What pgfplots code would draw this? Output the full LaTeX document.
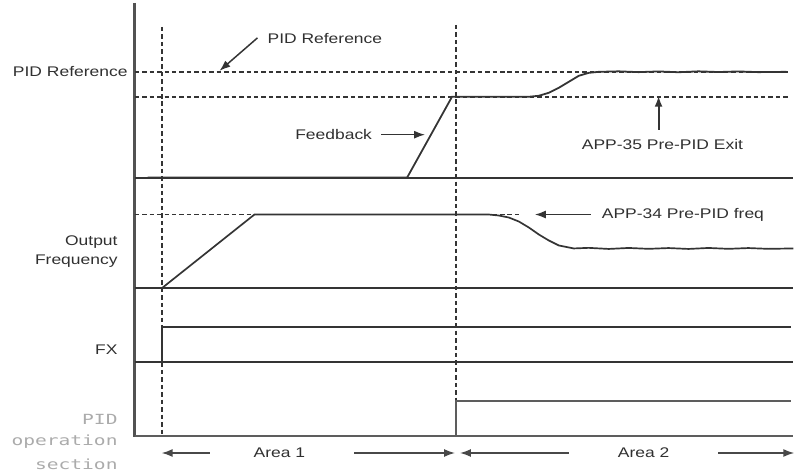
\documentclass[border=0pt]{standalone}
\usepackage{fontspec}
\setmainfont{Liberation Sans}[FakeStretch=1.25]
\newfontfamily\pixfont{DejaVu Sans Mono}[FakeStretch=1.4]
\usepackage{pgfplots}
\pgfplotsset{compat=1.18}
\usetikzlibrary{arrows.meta}
\definecolor{ln}{HTML}{343434}
\definecolor{tx}{HTML}{303030}
\definecolor{px}{HTML}{ABABAB}
\tikzset{
  dsh/.style={dash pattern=on 4.5pt off 3pt, line width=1.8pt},
  arr/.style={-{Latex[length=11pt,width=8pt]}, line width=1.5pt},
  lbl/.style={font=\fontsize{14bp}{16bp}\selectfont, text=tx, inner sep=0pt},
  pxl/.style={font=\pixfont\fontsize{14bp}{16bp}\selectfont, text=px, inner sep=0pt},
}
\begin{document}
\begin{tikzpicture}
\begin{axis}[
  scale only axis, width=795bp, height=475bp,
  xmin=0, xmax=795, ymin=0, ymax=475,
  hide axis, clip=false,
  every axis plot/.append style={ln, line width=1.8pt, mark=none},
]
\path (axis cs:0,0) rectangle (axis cs:795,475);
% left vertical axis
\addplot[line width=2.5pt, color=ln!85] coordinates {(135,472) (135,37)};
% dashed verticals
\addplot[dsh] coordinates {(162,448) (162,38)};
\addplot[dsh] coordinates {(457,450) (457,38)};
% horizontal dashed levels
\addplot[dsh] coordinates {(135,403) (790,403)};
\addplot[dsh] coordinates {(135,378) (790,378)};
\addplot[dsh] coordinates {(135,260) (522,260)};
% baselines
\addplot[line width=2pt] coordinates {(135,297) (795,297)};
\addplot[line width=2pt] coordinates {(135,186) (795,186)};
\addplot[line width=2pt] coordinates {(135,112) (795,112)};
\addplot[line width=2pt, color=ln!80] coordinates {(135,38) (795,38)};
% feedback
\addplot[line width=1.8pt] coordinates {(148,297) (408,297) (453,378) (530,378) (540,379) (550,382) (560,387) (570,393) (580,399) (590,402) (600,403) (620,403.5) (640,402.7) (660,403.4) (680,402.6) (700,403.5) (720,402.8) (740,403.4) (760,402.7) (788,403)};
% output frequency
\addplot[line width=1.7pt] coordinates {(162,186) (255,260) (490,260) (500,259) (510,257) (520,253) (530,247) (540,240) (550,234) (560,229) (575,226) (590,226.6) (610,225.5) (630,226.5) (650,225.6) (670,226.4) (690,225.5) (710,226.5) (730,225.6) (750,226.4) (770,225.6) (795,226)};
% FX
\addplot[line width=1.9pt] coordinates {(162,112) (162,147) (793,147)};
% PID operation
\addplot[line width=2pt, color=ln!80] coordinates {(457,38) (457,73) (793,73)};
% annotation arrows
\addplot[arr] coordinates {(258,437) (220,404)};
\addplot[arr] coordinates {(382,340) (426,340)};
\addplot[arr, line width=2pt] coordinates {(660,345) (660,379)};
\addplot[arr] coordinates {(592,260) (536,260)};
% area arrows
\addplot[arr, color=ln!90] coordinates {(210,21) (162,21)};
\addplot[arr, color=ln!90] coordinates {(355,21) (456,21)};
\addplot[arr, color=ln!90] coordinates {(570,21) (461,21)};
\addplot[arr, color=ln!90] coordinates {(720,21) (796,21)};
% texts
\node[lbl, anchor=west] at (axis cs:268,436) {PID Reference};
\node[lbl, anchor=east] at (axis cs:373,340) {Feedback};
\node[lbl, anchor=west] at (axis cs:583,330) {APP-35 Pre-PID Exit};
\node[lbl, anchor=west] at (axis cs:603,260) {APP-34 Pre-PID freq};
\node[lbl, anchor=east] at (axis cs:128,403) {PID Reference};
\node[lbl, anchor=east] at (axis cs:118,232) {Output};
\node[lbl, anchor=east] at (axis cs:118,213) {Frequency};
\node[lbl, anchor=east] at (axis cs:118,125) {FX};
\node[lbl, anchor=center] at (axis cs:280,21) {Area 1};
\node[lbl, anchor=center] at (axis cs:645,21) {Area 2};
\node[pxl, anchor=east] at (axis cs:118,55) {PID};
\node[pxl, anchor=east] at (axis cs:118,32) {operation};
\node[pxl, anchor=east] at (axis cs:118,10) {section};
\end{axis}
\end{tikzpicture}
\end{document}
